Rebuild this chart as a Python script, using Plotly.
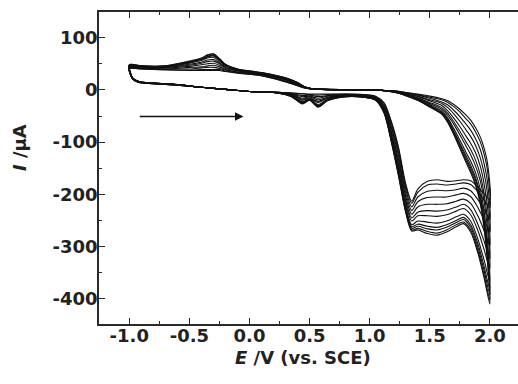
import plotly.graph_objects as go

# Potential path of one cycle: forward scan (-1.0 -> 2.0) then reverse scan (2.0 -> -1.0), V vs. SCE
forward_E = [-1.00, -0.97, -0.92, -0.80, -0.60, -0.40, -0.20, 0.00, 0.20, 0.35,
             0.44, 0.50, 0.57, 0.65, 0.80, 0.95, 1.05, 1.12, 1.18, 1.24,
             1.30, 1.35, 1.40, 1.48, 1.56, 1.64, 1.72, 1.78, 1.84, 1.90,
             1.95, 2.00]
reverse_E = [1.98, 1.95, 1.92, 1.88, 1.84, 1.80, 1.75, 1.70, 1.65, 1.60,
             1.50, 1.40, 1.30, 1.20, 1.10, 0.90, 0.60, 0.50, 0.45, 0.40,
             0.30, 0.10, -0.10, -0.20, -0.25, -0.30, -0.35, -0.40, -0.50, -0.70,
             -0.90, -1.00]

# Current (uA) of each cycle along forward_E + reverse_E
cycle_01 = [40, 20, 14, 12, 9, 5, 1, -3, -4, -6, -7, -8, -8, -8, -8, -9, -12, -25, -60, -110,
            -180, -213, -190, -175, -172, -175, -174, -172, -174, -186, -198, -210,
            -140, -110, -90, -72, -58, -48, -37, -28, -21, -17, -12, -8, -5, -2, -1, 0, 1, 2, 4, 8,
            15, 27, 32, 35, 37, 37, 37, 37, 37, 38, 40, 40]
cycle_02 = [41, 20, 14, 12, 9, 5, 1, -3, -4, -6, -8, -9, -10, -9, -8, -9, -13, -26, -63, -114,
            -184, -217, -196, -182, -180, -182, -180, -178, -181, -195, -210, -225,
            -154, -121, -99, -80, -65, -55, -42, -32, -24, -19, -14, -9, -5, -2, -1, 0, 1, 2, 4, 8,
            16, 27, 33, 36, 39, 39, 39, 39, 38, 39, 40, 41]
cycle_03 = [42, 20, 14, 12, 9, 5, 1, -3, -4, -7, -11, -10, -13, -11, -9, -10, -14, -29, -68, -120,
            -190, -224, -205, -194, -192, -193, -191, -188, -193, -210, -228, -248,
            -176, -139, -114, -93, -77, -65, -51, -39, -29, -23, -16, -10, -6, -2, -1, 0, 1, 2, 5, 9,
            17, 28, 34, 38, 41, 43, 43, 42, 40, 40, 41, 42]
cycle_04 = [42, 21, 15, 12, 9, 5, 1, -3, -4, -8, -13, -12, -16, -12, -10, -11, -15, -31, -72, -127,
            -197, -231, -214, -206, -205, -205, -201, -198, -204, -225, -248, -272,
            -199, -157, -130, -106, -89, -76, -60, -46, -34, -26, -19, -12, -7, -3, -1, 0, 1, 2, 5, 10,
            17, 29, 34, 39, 44, 47, 46, 44, 43, 40, 42, 42]
cycle_05 = [44, 21, 15, 13, 10, 5, 1, -3, -5, -8, -16, -13, -19, -14, -10, -11, -16, -34, -78, -134,
            -204, -238, -224, -219, -219, -218, -213, -209, -217, -241, -268, -298,
            -224, -177, -146, -120, -102, -88, -70, -54, -40, -30, -21, -13, -8, -3, -1, 0, 1, 2, 5, 11,
            19, 30, 36, 41, 47, 51, 50, 48, 45, 42, 43, 44]
cycle_06 = [45, 21, 15, 13, 10, 5, 1, -3, -5, -9, -18, -15, -22, -15, -11, -12, -17, -36, -83, -141,
            -211, -245, -234, -231, -232, -230, -224, -219, -229, -257, -288, -323,
            -247, -196, -162, -134, -114, -99, -79, -61, -45, -34, -24, -15, -8, -3, -1, 0, 1, 3, 6, 11,
            20, 30, 37, 43, 50, 55, 54, 51, 47, 43, 43, 45]
cycle_07 = [45, 21, 15, 13, 10, 5, 1, -3, -5, -10, -20, -16, -24, -16, -11, -12, -17, -38, -86, -146,
            -216, -251, -241, -241, -242, -239, -232, -227, -239, -269, -304, -342,
            -265, -210, -174, -145, -124, -107, -86, -66, -49, -37, -26, -16, -9, -3, -1, 0, 1, 3, 6, 12,
            20, 31, 37, 44, 52, 58, 57, 53, 49, 43, 44, 45]
cycle_08 = [46, 22, 16, 13, 10, 5, 1, -3, -5, -11, -23, -17, -28, -18, -12, -13, -18, -41, -91, -153,
            -223, -258, -251, -253, -255, -251, -243, -238, -251, -285, -324, -367,
            -289, -229, -190, -158, -136, -119, -96, -74, -54, -41, -28, -17, -10, -4, -1, 0, 1, 3, 6, 13,
            21, 32, 38, 46, 55, 62, 61, 56, 51, 44, 45, 46]
cycle_09 = [47, 22, 16, 13, 10, 5, 1, -3, -5, -12, -24, -18, -30, -19, -12, -13, -19, -42, -94, -157,
            -227, -262, -257, -261, -263, -258, -250, -244, -258, -294, -336, -382,
            -303, -241, -200, -167, -144, -125, -102, -78, -57, -43, -30, -18, -10, -4, -1, 0, 1, 3, 7, 13,
            22, 32, 39, 47, 57, 65, 63, 58, 52, 45, 45, 47]
cycle_10 = [47, 22, 16, 13, 10, 5, 1, -3, -5, -12, -25, -19, -31, -19, -13, -14, -19, -43, -96, -160,
            -230, -265, -261, -266, -268, -263, -254, -248, -263, -301, -344, -392,
            -313, -248, -206, -172, -149, -130, -105, -81, -59, -44, -31, -19, -10, -4, -1, 0, 1, 3, 7, 13,
            22, 32, 39, 48, 58, 66, 64, 59, 53, 45, 45, 47]
cycle_11 = [48, 22, 16, 13, 10, 5, 1, -3, -5, -13, -26, -20, -32, -20, -13, -14, -20, -44, -98, -163,
            -233, -268, -265, -271, -274, -268, -258, -253, -268, -307, -352, -402,
            -322, -256, -213, -178, -154, -134, -109, -84, -61, -46, -32, -20, -11, -4, -1, 0, 1, 3, 7, 14,
            23, 33, 40, 48, 59, 68, 66, 60, 54, 46, 46, 48]
cycle_12 = [48, 22, 16, 13, 10, 5, 1, -3, -5, -13, -27, -20, -33, -21, -13, -14, -20, -45, -100, -165,
            -235, -270, -268, -275, -278, -272, -262, -256, -272, -312, -358, -410,
            -330, -262, -218, -182, -158, -138, -112, -86, -63, -47, -33, -20, -11, -4, -1, 0, 1, 3, 7, 14,
            23, 33, 40, 49, 60, 69, 67, 61, 55, 46, 46, 48]

cycles = [cycle_01, cycle_02, cycle_03, cycle_04, cycle_05, cycle_06,
          cycle_07, cycle_08, cycle_09, cycle_10, cycle_11, cycle_12]

x_ticks = [-1.0, -0.5, 0.0, 0.5, 1.0, 1.5, 2.0]
x_tick_labels = ["-1.0", "-0.5", "0.0", "0.5", "1.0", "1.5", "2.0"]
y_ticks = [100, 0, -100, -200, -300, -400]
y_tick_labels = ["100", "0", "-100", "-200", "-300", "-400"]

potential = forward_E + reverse_E

fig = go.Figure()
for cyc in cycles:
    assert len(cyc) == len(potential)
    fig.add_trace(go.Scatter(
        x=potential, y=cyc, mode="lines",
        line=dict(color="#111111", width=1.1, shape="spline", smoothing=0.8),
        showlegend=False, hoverinfo="skip"))

FONT = "DejaVu Sans, Liberation Sans, Arial, sans-serif"
axis_col = "#2a2a2a"
txt_col = "#222222"

fig.update_layout(
    width=518, height=384,
    margin=dict(l=99, r=0, t=12, b=60, autoexpand=False),
    paper_bgcolor="white", plot_bgcolor="white",
    font=dict(family=FONT, color=txt_col),
    xaxis=dict(
        range=[-1.252, 2.234], showgrid=False, zeroline=False, automargin=False,
        showline=True, linecolor=axis_col, linewidth=1.5, mirror="ticks",
        ticks="inside", ticklen=6, tickwidth=1.2, tickcolor=axis_col,
        tickvals=x_ticks, ticktext=x_tick_labels, ticklabelstandoff=-5,
        tickfont=dict(family=FONT, size=18, weight="bold", color=txt_col),
        minor=dict(dtick=0.25, tick0=0, ticks="inside", ticklen=3, tickwidth=1.2, tickcolor=axis_col),
    ),
    yaxis=dict(
        range=[-448, 149], showgrid=False, zeroline=False, automargin=False,
        showline=True, linecolor=axis_col, linewidth=1.5, mirror=False,
        ticks="inside", ticklen=6, tickwidth=1.2, tickcolor=axis_col,
        tickvals=y_ticks, ticktext=y_tick_labels, ticklabelstandoff=-4,
        tickfont=dict(family=FONT, size=18, weight="bold", color=txt_col),
        minor=dict(dtick=50, tick0=0, ticks="inside", ticklen=3, tickwidth=1.2, tickcolor=axis_col),
    ),
)

# scan-direction arrow
fig.add_annotation(x=-0.05, y=-51, ax=-0.925, ay=-51, xref="x", yref="y", axref="x", ayref="y",
                   showarrow=True, arrowhead=2, arrowsize=1.3, arrowwidth=1.3, arrowcolor="#111111", text="")

# axis titles
fig.add_annotation(x=0.487, y=-0.106, xref="paper", yref="paper", xanchor="center", yanchor="middle",
                   text="<i>E</i> /V (vs. SCE)", showarrow=False,
                   font=dict(family=FONT, size=18, weight="bold", color=txt_col))
fig.add_annotation(x=-0.191, y=0.567, xref="paper", yref="paper", xanchor="center", yanchor="middle",
                   text="<i>I</i> /µA", textangle=-90, showarrow=False,
                   font=dict(family=FONT, size=18, weight="bold", color=txt_col))

fig.write_html("out.html", config={"displayModeBar": False},
               post_script="document.body.style.margin='0px';document.body.style.overflow='hidden';")
